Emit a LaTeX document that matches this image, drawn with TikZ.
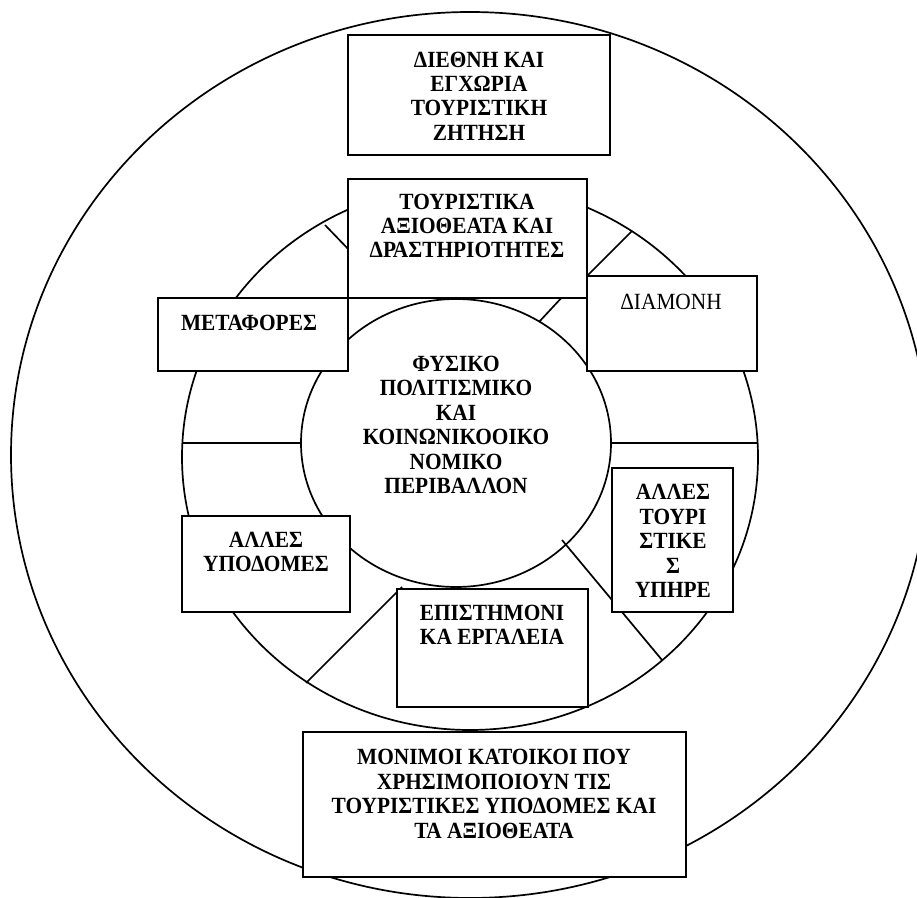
\documentclass[tikz,border=0pt]{standalone}
\usepackage{fontspec}
\setmainfont{Liberation Serif}[FakeStretch=0.92]
\usetikzlibrary{fit}

\begin{document}
\begin{tikzpicture}[x=0.5pt, y=-0.5pt,
        ring/.style={line width=0.85pt},
        box/.style={draw, fill=white, line width=0.95pt, inner sep=0pt},
        txt/.style={font=\fontsize{11.6}{12.2}\selectfont\bfseries, align=center, inner sep=0pt}]
            \useasboundingbox (0,0) rectangle (917,898);

            \coordinate (O1) at (470,455);
            \coordinate (O2) at (470,457);
            \coordinate (O3) at (456,443);

            \draw[ring] (O1) ellipse[x radius=459, y radius=443];
            \draw[ring] (O2) ellipse[x radius=288, y radius=273];
            \draw[ring] (O3) ellipse[x radius=155, y radius=144];

            \coordinate (a1) at (325,225); \coordinate (a2) at (352,253);
            \coordinate (b1) at (632,231); \coordinate (b2) at (580,283);
            \coordinate (c1) at (539,322); \coordinate (c2) at (565,294);
            \coordinate (d1) at (182,443); \coordinate (d2) at (301,443);
            \coordinate (e1) at (611,443); \coordinate (e2) at (758,443);
            \coordinate (f1) at (306,683); \coordinate (f2) at (402,587);
            \coordinate (g1) at (562,540); \coordinate (g2) at (662,660);

            \foreach \p/\q in {a1/a2, b1/b2, c1/c2, d1/d2, e1/e2, f1/f2, g1/g2}
                \draw[ring] (\p) -- (\q);

            \node[box, fit={(348,35) (610,155)}] (demand) {};
            \node[txt] (demand-t) at (479,96) {ΔΙΕΘΝΗ ΚΑΙ\\ΕΓΧΩΡΙΑ\\ΤΟΥΡΙΣΤΙΚΗ\\ΖΗΤΗΣΗ};

            \node[box, fit={(348,179) (587,298)}] (sights) {};
            \node[txt] (sights-t) at (467,226) {ΤΟΥΡΙΣΤΙΚΑ\\ΑΞΙΟΘΕΑΤΑ ΚΑΙ\\ΔΡΑΣΤΗΡΙΟΤΗΤΕΣ};

            \node[box, fit={(587,276) (757,371)}] (stay) {};
            \node[txt, font=\fontsize{11.6}{12.2}\selectfont\mdseries] (stay-t) at (671,302) {ΔΙΑΜΟΝΗ};

            \node[box, fit={(158,298) (348,371)}] (transport) {};
            \node[txt] (transport-t) at (249,323) {ΜΕΤΑΦΟΡΕΣ};

            \node[txt] (env-t) at (456,425) {ΦΥΣΙΚΟ\\ΠΟΛΙΤΙΣΜΙΚΟ\\ΚΑΙ\\ΚΟΙΝΩΝΙΚΟΟΙΚΟ\\ΝΟΜΙΚΟ\\ΠΕΡΙΒΑΛΛΟΝ};

            \node[box, fit={(182,516) (350,612)}] (infra) {};
            \node[txt] (infra-t) at (266,552) {ΑΛΛΕΣ\\ΥΠΟΔΟΜΕΣ};

            \node[box, fit={(612,468) (733,612)}] (services) {};
            \node[txt] (services-t) at (673,541) {ΑΛΛΕΣ\\ΤΟΥΡΙ\\ΣΤΙΚΕ\\Σ\\ΥΠΗΡΕ};

            \node[box, fit={(397,589) (588,707)}] (tools) {};
            \node[txt] (tools-t) at (492,625) {ΕΠΙΣΤΗΜΟΝΙ\\ΚΑ ΕΡΓΑΛΕΙΑ};

            \node[box, fit={(303,732) (686,877)}] (residents) {};
            \node[txt] (residents-t) at (494,794) {ΜΟΝΙΜΟΙ ΚΑΤΟΙΚΟΙ ΠΟΥ\\ΧΡΗΣΙΜΟΠΟΙΟΥΝ ΤΙΣ\\ΤΟΥΡΙΣΤΙΚΕΣ ΥΠΟΔΟΜΕΣ ΚΑΙ\\ΤΑ ΑΞΙΟΘΕΑΤΑ};
        \end{tikzpicture}
\end{document}
